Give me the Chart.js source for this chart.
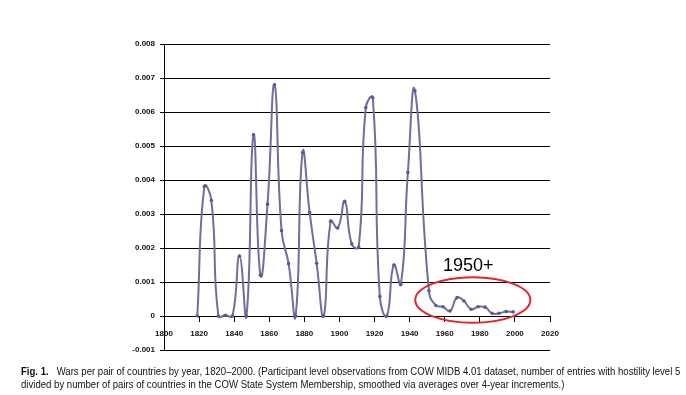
<!DOCTYPE html>
<html>
<head>
<meta charset="utf-8">
<script src="https://cdn.jsdelivr.net/npm/chart.js@4.4.1/dist/chart.umd.min.js"></script>
<style>
  html, body { margin: 0; padding: 0; background: #fff; }
  #wrap { position: relative; width: 686px; height: 395px; overflow: hidden; }
  #chart { position: absolute; left: 0; top: 0; }
  .cap {
    position: absolute; left: 21px; white-space: nowrap;
    font-family: "Liberation Sans", Arial, sans-serif; font-size: 10px; color: #111;
    transform-origin: 0 0;
  }
</style>
</head>
<body>
<div id="wrap">
  <canvas id="chart" width="686" height="395"></canvas>
  <div class="cap" id="cap1" style="top:366px"><b>Fig. 1.</b>&nbsp;&nbsp;&nbsp;Wars per pair of countries by year, 1820–2000. (Participant level observations from COW MIDB 4.01 dataset, number of entries with hostility level 5</div>
  <div class="cap" id="cap2" style="top:379px">divided by number of pairs of countries in the COW State System Membership, smoothed via averages over 4-year increments.)</div>
</div>
<script>
// years of the smoothed observations (4-year steps, no marker at 1947)
const years = [1819, 1823, 1827, 1831, 1835, 1839, 1843, 1847, 1851, 1855,
               1859, 1863, 1867, 1871, 1875, 1879, 1883, 1887, 1891, 1895,
               1899, 1903, 1907, 1911, 1915, 1919, 1923, 1927, 1931, 1935,
               1939, 1943, 1951, 1955, 1959, 1963, 1967, 1971, 1975, 1979,
               1983, 1987, 1991, 1995, 1999];
// wars per pair of countries
const warsPerPair = [0, 0.00381, 0.00340, 0, 0.00002, 0, 0.00176, 0, 0.00533, 0.00120,
                     0.00329, 0.00680, 0.00251, 0.00154, 0, 0.00481, 0.00305, 0.00155, 0, 0.00279,
                     0.00259, 0.00337, 0.00212, 0.00203, 0.00613, 0.00642, 0.00057, 0, 0.00150, 0.00093,
                     0.00422, 0.00662, 0.00074, 0.00031, 0.00027, 0.00015, 0.00054, 0.00044, 0.00020, 0.00027,
                     0.00026, 0.00008, 0.00008, 0.00013, 0.00012];

const xMin = 1800, xMax = 2020, xStep = 20;
const yMin = -0.001, yMax = 0.008, yStep = 0.001;

const points = years.map((yr, i) => ({ x: yr, y: warsPerPair[i] }));

// red ellipse around the post-1950 period, with its label
const highlight = { cx: 1976, cy: 0.00047, rx: 32.8, ry: 0.00067, label: '1950+', lx: 1959, ly: 0.00131 };

const highlightPlugin = {
  id: 'highlight',
  afterDatasetsDraw(chart) {
    const { ctx, scales: { x, y } } = chart;
    const cx = x.getPixelForValue(highlight.cx);
    const cy = y.getPixelForValue(highlight.cy);
    const rx = x.getPixelForValue(highlight.cx + highlight.rx) - cx;
    const ry = cy - y.getPixelForValue(highlight.cy + highlight.ry);
    ctx.save();
    ctx.strokeStyle = '#e3262a';
    ctx.lineWidth = 2;
    ctx.beginPath();
    ctx.ellipse(cx, cy, rx, ry, 0, 0, Math.PI * 2);
    ctx.stroke();
    ctx.fillStyle = '#000';
    ctx.font = '18px "Liberation Sans", Arial, sans-serif';
    ctx.textBaseline = 'alphabetic';
    ctx.fillText(highlight.label, x.getPixelForValue(highlight.lx), y.getPixelForValue(highlight.ly));
    ctx.restore();
  }
};

const tickFont = { family: '"Liberation Sans", Arial, sans-serif', size: 8, weight: 'bold' };

new Chart(document.getElementById('chart'), {
  type: 'line',
  data: {
    datasets: [{
      data: points,
      borderColor: '#6e6ea0',
      borderWidth: 2,
      tension: 0.5,
      fill: false,
      pointRadius: 1.8,
      pointBackgroundColor: '#5c5c8e',
      pointBorderColor: '#5c5c8e',
      pointBorderWidth: 0
    }]
  },
  options: {
    responsive: false,
    animation: false,
    layout: { padding: { left: 0, top: 44, right: 136, bottom: 45 } },
    plugins: { legend: { display: false }, tooltip: { enabled: false } },
    scales: {
      x: {
        type: 'linear',
        position: { y: 0 },
        min: xMin, max: xMax,
        ticks: { stepSize: xStep, color: '#111', font: tickFont, padding: 8, maxRotation: 0,
                 callback: v => String(v) },
        grid: { drawOnChartArea: false, drawTicks: true, tickLength: 5, color: '#000' },
        border: { display: true, color: '#000', width: 1 }
      },
      y: {
        min: yMin, max: yMax,
        afterFit(scale) { scale.width = 164; },
        ticks: { stepSize: yStep, color: '#111', font: tickFont, padding: 5,
                 callback: v => { const r = Math.round(v * 1000) / 1000; return r === 0 ? '0' : r.toFixed(3); } },
        grid: { color: '#000', lineWidth: 1, drawTicks: true, tickLength: 4 },
        border: { display: true, color: '#000', width: 1 }
      }
    }
  },
  plugins: [highlightPlugin]
});

// squeeze each caption line to the width it has in the figure
[['cap1', 659], ['cap2', 543]].forEach(([id, w]) => {
  const el = document.getElementById(id);
  el.style.transform = 'scaleX(' + (w / el.scrollWidth) + ')';
});
</script>
</body>
</html>
